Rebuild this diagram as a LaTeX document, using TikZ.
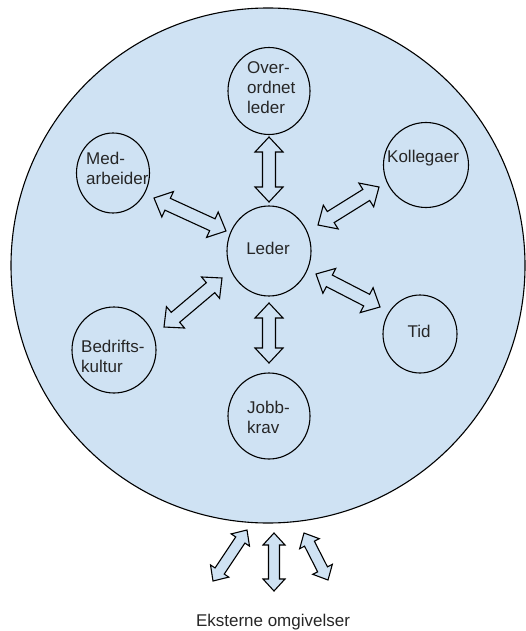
\documentclass[tikz,border=0pt]{standalone}
\usepackage{fontspec}
\setmainfont{Liberation Sans}
\usetikzlibrary{calc,shapes.geometric}
\definecolor{bgblue}{HTML}{CFE2F3}
\newcommand{\blockarrow}[5]{%
  \coordinate (ha) at ($(#1)!#3!(#2)$);
  \coordinate (hb) at ($(#2)!#3!(#1)$);
  \filldraw[barrow] (#1) -- ($(ha)!#4!90:(#2)$) -- ($(ha)!#5!90:(#2)$)
    -- ($(hb)!#5!-90:(#1)$) -- ($(hb)!#4!-90:(#1)$) -- (#2)
    -- ($(hb)!#4!90:(#1)$) -- ($(hb)!#5!90:(#1)$)
    -- ($(ha)!#5!-90:(#2)$) -- ($(ha)!#4!-90:(#2)$) -- cycle;}
\begin{document}
\begin{tikzpicture}[x=1pt,y=-1pt,
  ring/.style={draw=black, line width=1.1pt, ellipse, inner sep=0pt},
  lbl/.style={font=\fontsize{17}{20}\selectfont, inner sep=0pt, align=left, text=black!85},
  barrow/.style={draw=black, line width=1.1pt, fill=bgblue, line join=miter}]
\useasboundingbox (0,0) rectangle (525,631);
\node[ring, fill=bgblue, minimum width=514pt, minimum height=515pt] (world) at (268,265.5) {};
% small circles
\node[ring, minimum width=82pt, minimum height=87pt] (over) at (269,91) {};
\node[ring, minimum width=73pt, minimum height=80pt] (med) at (113,173) {};
\node[ring, minimum width=85pt, minimum height=85pt] (koll) at (426,165) {};
\node[ring, minimum width=84pt, minimum height=90pt] (leder) at (269,251) {};
\node[ring, minimum width=84pt, minimum height=86pt] (bedr) at (114,350) {};
\node[ring, minimum width=74pt, minimum height=78pt] (tid) at (420,334) {};
\node[ring, minimum width=82pt, minimum height=86pt] (jobb) at (269,416) {};
% labels
\node[lbl, anchor=west] (tover) at (247,88) {Over-\\ordnet\\leder};
\node[lbl, anchor=west] (tmed) at (86,168) {Med-\\arbeider};
\node[lbl, anchor=west] (tkoll) at (387,158) {Kollegaer};
\node[lbl] (tleder) at (268,248) {Leder};
\node[lbl, anchor=west] (tbedr) at (81,356) {Bedrifts-\\kultur};
\node[lbl] (ttid) at (419,331) {Tid};
\node[lbl, anchor=west] (tjobb) at (247,417) {Jobb-\\krav};
\node[lbl] (text) at (273,622) {Eksterne omgivelser};
% arrow end points
\coordinate (a1) at (269,137);
\coordinate (b1) at (269,202);
\coordinate (a2) at (154,198);
\coordinate (b2) at (226,231);
\coordinate (a3) at (379,187);
\coordinate (b3) at (318,225);
\coordinate (a4) at (222,278);
\coordinate (b4) at (164,327);
\coordinate (a5) at (316,274);
\coordinate (b5) at (380,307);
\coordinate (a6) at (269,303);
\coordinate (b6) at (269,363);
\coordinate (a7) at (247,530);
\coordinate (b7) at (213,581);
\coordinate (a8) at (274,533);
\coordinate (b8) at (274,591);
\coordinate (a9) at (304,533);
\coordinate (b9) at (328,580);
\blockarrow{a1}{b1}{15pt}{14pt}{6.5pt}
\blockarrow{a2}{b2}{15pt}{14pt}{6.5pt}
\blockarrow{a3}{b3}{15pt}{14pt}{6.5pt}
\blockarrow{a4}{b4}{15pt}{14pt}{6.5pt}
\blockarrow{a5}{b5}{15pt}{14pt}{6.5pt}
\blockarrow{a6}{b6}{15pt}{14pt}{6.5pt}
\blockarrow{a7}{b7}{12pt}{11pt}{5.5pt}
\blockarrow{a8}{b8}{12pt}{11pt}{5.5pt}
\blockarrow{a9}{b9}{12pt}{11pt}{5.5pt}
\end{tikzpicture}
\end{document}
